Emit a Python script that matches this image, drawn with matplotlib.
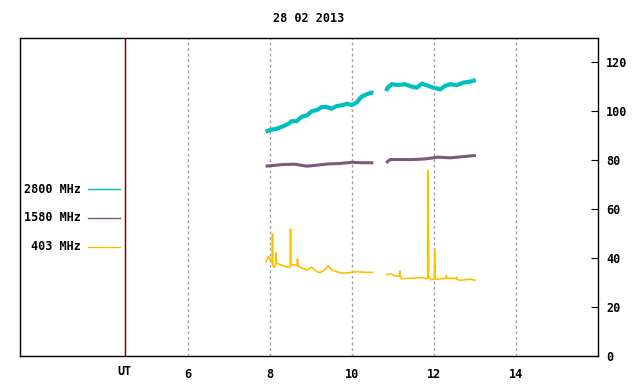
import matplotlib.pyplot as plt

# ---- data (UT hours, values) ----
t_2800_a = [7.89, 8.00, 8.16, 8.33, 8.45, 8.53, 8.65, 8.77, 8.90, 9.02, 9.14, 9.26,
            9.38, 9.50, 9.63, 9.75, 9.87, 9.99, 10.11, 10.23, 10.36, 10.48, 10.52]
v_2800_a = [91.7, 92.4, 92.9, 94.0, 95.0, 96.0, 96.0, 97.8, 98.4, 100.1, 100.5, 101.8,
            101.8, 101.1, 102.2, 102.5, 103.1, 102.6, 103.6, 106.0, 107.0, 107.7, 107.5]
t_2800_b = [10.83, 10.86, 10.97, 11.13, 11.29, 11.46, 11.58, 11.70, 11.82, 11.98, 12.15,
            12.27, 12.39, 12.55, 12.72, 12.84, 13.02]
v_2800_b = [108.3, 109.5, 111.1, 110.8, 111.1, 110.1, 109.7, 111.3, 110.7, 109.7, 109.0,
            110.4, 111.1, 110.7, 111.8, 112.0, 112.8]

t_1580_a = [7.89, 8.10, 8.33, 8.60, 8.90, 9.14, 9.40, 9.70, 10.00, 10.25, 10.52]
v_1580_a = [77.6, 77.9, 78.3, 78.4, 77.6, 78.0, 78.5, 78.7, 79.2, 79.0, 79.0]
t_1580_b = [10.83, 10.93, 11.20, 11.49, 11.80, 12.10, 12.40, 12.70, 13.02]
v_1580_b = [79.0, 80.3, 80.3, 80.3, 80.6, 81.3, 81.0, 81.5, 82.0]

t_403_a = [7.89, 7.96, 8.02, 8.05, 8.06, 8.07, 8.10, 8.14, 8.15, 8.16, 8.25, 8.37, 8.45,
           8.49, 8.50, 8.51, 8.57, 8.66, 8.67, 8.68, 8.74, 8.89, 8.96, 9.01, 9.14, 9.22,
           9.34, 9.42, 9.50, 9.63, 9.75, 9.95, 10.11, 10.28, 10.52]
v_403_a = [38.2, 40.7, 39.0, 38.0, 50.0, 37.0, 36.2, 37.5, 42.1, 38.0, 37.3, 36.6, 36.2,
           36.5, 51.9, 37.0, 37.3, 37.0, 39.6, 36.8, 36.2, 35.2, 35.8, 36.3, 34.5, 34.1,
           35.2, 36.9, 35.2, 34.5, 33.9, 34.1, 34.5, 34.2, 34.2]
t_403_b = [10.83, 10.93, 11.09, 11.16, 11.17, 11.18, 11.21, 11.49, 11.70, 11.82, 11.85,
           11.86, 11.87, 11.90, 11.94, 12.01, 12.02, 12.03, 12.10, 12.29, 12.30, 12.31,
           12.39, 12.54, 12.55, 12.56, 12.63, 12.88, 13.02]
v_403_b = [33.2, 33.6, 32.5, 32.8, 34.8, 32.5, 31.6, 31.8, 32.1, 31.6, 32.0, 75.8, 32.0,
           31.8, 31.1, 31.5, 43.4, 31.5, 31.4, 31.8, 32.9, 31.8, 31.8, 31.6, 32.2, 31.3,
           30.9, 31.4, 30.9]

labels = ["2800 MHz", "1580 MHz", "403 MHz"]
colors = ["#00bfbf", "#7a5a7a", "#ffbf00"]
xticks = [6, 8, 10, 12, 14]
yticks = [0, 20, 40, 60, 80, 100, 120]
ut_pos = 4.46

font = {"family": "DejaVu Sans Mono", "weight": "bold", "size": 8.5}

fig = plt.figure(figsize=(6.4, 3.84), dpi=100)
ax = fig.add_axes([20 / 640, 28 / 384, 578 / 640, 318 / 384])

line_kw = {"solid_capstyle": "butt", "solid_joinstyle": "miter"}
ax.plot(t_2800_a, v_2800_a, color=colors[0], lw=3.0, **line_kw)
ax.plot(t_2800_b, v_2800_b, color=colors[0], lw=3.0, **line_kw)
ax.plot(t_1580_a, v_1580_a, color=colors[1], lw=2.2, **line_kw)
ax.plot(t_1580_b, v_1580_b, color=colors[1], lw=2.2, **line_kw)
ax.plot(t_403_a, v_403_a, color=colors[2], lw=1.2, solid_capstyle="butt")
ax.plot(t_403_b, v_403_b, color=colors[2], lw=1.2, solid_capstyle="butt")

ax.set_xlim(1.9, 16.0)
ax.set_ylim(0, 130)

for x in xticks:
    ax.axvline(x, color="#a0a0a0", lw=1, ls=(0, (2, 2)), zorder=0)
ax.axvline(ut_pos, color="#600000", lw=1, zorder=0)

ax.set_xticks(xticks)
ax.set_xticklabels([str(x) for x in xticks], fontdict=font)
ax.tick_params(axis="x", length=0, pad=9)
ax.text(ut_pos, -3.5, "UT", ha="center", va="top", **font)

ax.yaxis.tick_right()
ax.set_yticks(yticks)
ax.set_yticklabels([str(y) for y in yticks], fontdict=font)
ax.tick_params(axis="y", direction="in", length=5, pad=6, right=True, left=False)

for s in ax.spines.values():
    s.set_linewidth(1)
    s.set_color("black")

# legend on the left side
rows = [0.525, 0.434, 0.343]
for lab, c, yy in zip(labels, colors, rows):
    ax.text(0.105, yy, lab, transform=ax.transAxes, ha="right", va="center", **font)
    ax.plot([0.117, 0.173], [yy, yy], transform=ax.transAxes, color=c, lw=1)

fig.text(309 / 640, 1 - 19 / 384, "28 02 2013", ha="center", va="center", **font)

fig.savefig("out.png", dpi=100)
